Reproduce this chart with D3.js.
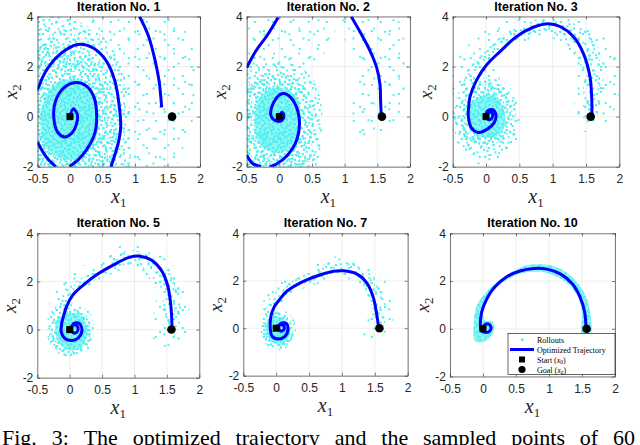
<!DOCTYPE html>
<html>
<head>
<meta charset="utf-8">
<script src="https://cdn.jsdelivr.net/npm/d3@7"></script>
<style>
  body { margin: 0; background: #fff; }
  svg { display: block; }
  .tick text { font-family: Arial, "Liberation Sans", sans-serif; font-size: 12px; fill: #262626; }
  .title { font-family: Arial, "Liberation Sans", sans-serif; font-weight: bold; font-size: 12.5px; fill: #000; }
  .lab { font-family: "Liberation Serif", "Times New Roman", serif; font-style: italic; fill: #262626; }
  .leg { font-family: "Liberation Serif", "Times New Roman", serif; font-size: 8px; fill: #000; }
  .cap { font-family: "Liberation Serif", "Times New Roman", serif; font-size: 22px; fill: #000; }
</style>
</head>
<body>
<svg width="640" height="445"></svg>
<script>
// ---- data ----
const xTicks = [-0.5, 0, 0.5, 1, 1.5, 2];
const yTicks = [-2, 0, 2, 4];
const titles = ["Iteration No. 1", "Iteration No. 2", "Iteration No. 3",
                "Iteration No. 5", "Iteration No. 7", "Iteration No. 10"];
const startPt = [0, 0];
const goalPt = [1.57, 0];

// optimized trajectory (segments that stay inside the axes)
const traj1 = [
  [[0,0],[0.05,0.31],[0.11,0.11],[0.10,-0.29],[0.02,-0.68],[-0.09,-0.81],[-0.19,-0.62],[-0.25,-0.02],
   [-0.22,0.64],[-0.09,1.16],[0.09,1.36],[0.25,1.23],[0.37,0.77],[0.41,-0.02],[0.38,-0.68],[0.25,-1.34],
   [0.12,-1.74],[-0.01,-2.0]],
  [[-0.22,-2.0],[-0.37,-1.6],[-0.5,-1.01]],
  [[-0.5,1.06],[-0.37,1.82],[-0.16,2.48],[0.12,2.88],[0.35,2.75],[0.56,2.22],[0.69,1.43],[0.76,0.37],
   [0.78,-0.42],[0.74,-1.08],[0.63,-2.0]],
  [[1.07,4.0],[1.20,3.27],[1.30,2.35],[1.37,1.43],[1.41,0.37]]
];
const traj2 = [
  [[0,0],[0.04,0.18],[0.07,0.05],[0.04,-0.15],[-0.04,-0.18],[-0.13,0.05],[-0.08,0.6],[0.05,0.92],
   [0.18,0.75],[0.30,0.0],[0.27,-0.9],[0.12,-1.55],[-0.05,-1.9],[-0.15,-2.0]],
  [[-0.28,-2.0],[-0.41,-1.87],[-0.5,-1.54]],
  [[-0.5,1.96],[-0.36,2.62],[-0.18,3.27],[-0.02,3.96]],
  [[1.10,4.0],[1.26,3.27],[1.39,2.62],[1.49,1.96],[1.54,1.30],[1.55,0.63],[1.56,0.04]]
];
const traj3 = [
  [[0,0],[0.02,0.15],[0.08,0.17],[0.10,0.02],[0.06,-0.12],[0.0,-0.05],[0.02,0.22],[0.10,0.28],
   [0.15,0.05],[0.12,-0.25],[0.02,-0.5],[-0.12,-0.63],[-0.22,-0.45],[-0.265,0.0],[-0.26,0.4],
   [-0.24,0.8],[-0.14,1.47],[0.01,2.07],[0.21,2.6],[0.46,3.2],[0.71,3.57],[0.935,3.71],[1.11,3.6],
   [1.31,3.2],[1.46,2.53],[1.56,1.6],[1.585,0.8],[1.59,0.07]]
];
const traj5 = [
  [[0,0],[0.04,0.17],[0.10,0.18],[0.13,0.02],[0.09,-0.14],[0.04,-0.10],[0.03,0.05],[0.06,0.25],
   [0.14,0.27],[0.19,0.0],[0.14,-0.33],[0.04,-0.45],[-0.07,-0.38],[-0.13,-0.1],[-0.12,0.3],
   [-0.09,0.6],[-0.05,0.95],[0.05,1.44],[0.21,1.85],[0.41,2.27],[0.67,2.68],[0.92,3.0],[1.08,3.05],
   [1.26,2.89],[1.41,2.48],[1.51,1.85],[1.56,1.02],[1.58,0.05]]
];
const traj7 = [
  [[0,0],[0.05,0.15],[0.11,0.12],[0.12,-0.05],[0.07,-0.12],[0.04,0.02],[0.07,0.2],[0.15,0.2],
   [0.18,-0.05],[0.13,-0.35],[0.03,-0.45],[-0.06,-0.35],[-0.09,0.0],[-0.08,0.5],[-0.03,0.9],
   [0.05,1.2],[0.16,1.55],[0.36,1.9],[0.62,2.2],[0.87,2.4],[1.02,2.42],[1.23,2.28],[1.38,1.9],
   [1.48,1.27],[1.53,0.56],[1.56,0.03]]
];
const traj10 = [
  [[0,0],[0.02,0.15],[0.08,0.2],[0.12,0.08],[0.10,-0.1],[0.03,-0.15],[-0.03,-0.05],[-0.04,0.14],
   [-0.02,0.7],[0.06,1.27],[0.18,1.76],[0.36,2.18],[0.56,2.42],[0.77,2.53],[0.97,2.5],[1.17,2.3],
   [1.35,1.9],[1.47,1.34],[1.54,0.7],[1.56,0.07]]
];

// rollout clouds: outlines of regions of roughly equal sample density
const cloud1 = [
  ["sparse", [[-0.7,4.2],[1.5,4.2],[1.85,3.0],[1.97,1.5],[1.9,0.0],[1.75,-1.2],[1.55,-2.2],[-0.7,-2.2]]],
  ["medium", [[-0.7,-2.2],[0.85,-2.2],[0.92,-0.5],[0.9,1.0],[0.75,2.3],[0.45,3.3],[0.0,3.9],[-0.7,4.1]]],
  ["dense",  [[-0.7,-2.2],[0.62,-2.2],[0.72,-1.0],[0.72,0.3],[0.6,1.4],[0.38,2.2],[0.05,2.75],[-0.3,2.9],[-0.7,2.7]]],
  ["solid",  [[0.44,-0.1],[0.36,0.95],[0.05,1.5],[-0.3,1.1],[-0.45,-0.1],[-0.35,-1.3],[0.02,-1.75],[0.35,-1.15]]]
];
const cloud2 = [
  ["sparse", [[-0.7,1.8],[0.4,1.9],[0.75,2.8],[0.85,4.2],[-0.7,4.2]]],
  ["sparse", [[1.0,4.2],[1.75,4.1],[1.95,2.5],[1.95,1.2],[1.75,-0.3],[1.45,-0.7],[1.2,-0.8],[1.05,-0.2],[1.2,1.5],[1.05,2.8],[0.92,3.6]]],
  ["medium", [[-0.7,-2.2],[0.52,-2.2],[0.64,-0.8],[0.64,0.6],[0.52,1.5],[0.3,2.0],[0.0,2.2],[-0.3,2.1],[-0.7,1.9]]],
  ["dense",  [[-0.7,-2.2],[0.38,-2.2],[0.5,-0.8],[0.5,0.5],[0.36,1.3],[0.1,1.7],[-0.2,1.75],[-0.45,1.4],[-0.7,1.0]]],
  ["solid",  [[0.33,-0.2],[0.25,0.8],[0.0,1.15],[-0.28,0.85],[-0.38,-0.2],[-0.3,-1.1],[0.0,-1.45],[0.25,-1.0]]]
];
const cloud3 = [
  ["sparse", [[-0.5,-0.5],[-0.55,1.5],[-0.38,2.5],[-0.1,3.3],[0.3,3.9],[0.7,4.1],[1.2,4.05],[1.55,3.7],[1.85,3.0],
              [1.97,2.0],[1.97,0.6],[1.82,-0.2],[1.45,-0.6],[1.32,0.2],[1.38,1.5],[1.28,2.5],[1.0,3.1],[0.7,3.1],
              [0.35,2.7],[0.15,2.1],[0.3,1.5],[0.5,0.5],[0.48,-0.8],[0.3,-1.75],[0.0,-1.95],[-0.35,-1.6]]],
  ["medium", [[-0.35,0.8],[-0.32,1.6],[-0.12,2.45],[0.2,3.15],[0.55,3.7],[0.9,3.95],[1.25,3.8],[1.57,3.25],[1.74,2.3],
              [1.76,1.2],[1.7,0.3],[1.62,-0.25],[1.48,-0.15],[1.46,0.8],[1.44,1.8],[1.33,2.55],[1.1,3.15],[0.85,3.35],
              [0.55,3.15],[0.27,2.65],[0.03,2.0],[-0.12,1.2]]],
  ["medium", [[0.45,0.0],[0.38,1.1],[0.0,1.55],[-0.38,1.1],[-0.48,-0.2],[-0.38,-1.25],[0.0,-1.6],[0.38,-1.1]]],
  ["dense",  [[0.4,0.0],[0.3,0.9],[0.05,1.3],[-0.25,1.0],[-0.38,-0.3],[-0.3,-0.9],[0.0,-1.15],[0.3,-0.8]]],
  ["solid",  [[0.29,0.0],[0.18,0.75],[-0.05,0.85],[-0.26,0.35],[-0.25,-0.4],[-0.1,-0.8],[0.15,-0.8],[0.28,-0.4]]]
];
const cloud5 = [
  ["sparse", [[-0.3,0.8],[-0.27,1.5],[0.0,2.25],[0.4,2.95],[0.9,3.55],[1.3,3.25],[1.62,2.6],[1.8,1.5],[1.85,0.5],
              [1.75,-0.55],[1.33,-0.6],[1.28,0.3],[1.33,1.5],[1.18,2.25],[0.95,2.55],[0.6,2.25],[0.25,1.65],[0.0,1.0]]],
  ["medium", [[-0.22,0.8],[-0.17,1.4],[0.08,1.98],[0.45,2.55],[0.9,3.3],[1.25,3.05],[1.55,2.45],[1.7,1.5],[1.7,0.3],
              [1.58,-0.35],[1.43,0.3],[1.43,1.3],[1.28,2.15],[1.0,2.7],[0.7,2.5],[0.35,1.98],[0.1,1.38],[-0.04,0.8]]],
  ["medium", [[0.38,0.0],[0.28,0.8],[0.0,1.0],[-0.3,0.7],[-0.34,-0.3],[-0.2,-0.95],[0.05,-1.12],[0.3,-0.8]]],
  ["dense",  [[0.33,0.1],[0.22,0.7],[0.0,0.9],[-0.22,0.6],[-0.3,-0.2],[-0.2,-0.85],[0.05,-1.02],[0.28,-0.7]]],
  ["solid",  [[0.27,0.1],[0.15,0.6],[-0.05,0.68],[-0.2,0.35],[-0.22,-0.2],[-0.1,-0.75],[0.1,-0.85],[0.25,-0.45]]]
];
const cloud7 = [
  ["sparse", [[-0.22,0.6],[-0.17,1.3],[0.08,1.95],[0.4,2.55],[0.8,3.0],[1.1,2.95],[1.47,2.55],[1.74,1.6],[1.8,0.5],
              [1.62,-0.3],[1.33,-0.5],[1.38,0.4],[1.38,1.3],[1.18,1.95],[0.95,2.1],[0.6,1.85],[0.25,1.45],[0.0,0.9]]],
  ["medium", [[-0.16,0.6],[-0.11,1.22],[0.1,1.75],[0.45,2.3],[0.85,2.8],[1.15,2.75],[1.46,2.3],[1.62,1.5],[1.67,0.5],
              [1.6,-0.12],[1.48,0.2],[1.44,1.1],[1.28,1.88],[1.05,2.25],[0.75,2.15],[0.4,1.82],[0.15,1.38],[-0.01,0.8]]],
  ["medium", [[0.3,0.1],[0.18,0.65],[-0.05,0.8],[-0.22,0.45],[-0.23,-0.2],[-0.12,-0.8],[0.07,-0.92],[0.25,-0.6]]],
  ["dense",  [[0.26,0.1],[0.15,0.55],[-0.05,0.68],[-0.18,0.4],[-0.2,-0.1],[-0.12,-0.7],[0.05,-0.85],[0.22,-0.55]]],
  ["solid",  [[0.21,0.0],[0.1,0.42],[-0.08,0.45],[-0.15,0.2],[-0.15,-0.15],[-0.06,-0.6],[0.1,-0.66],[0.2,-0.3]]]
];
const cloud10 = [
  ["solid", [[-0.12,-0.5],[-0.13,0.5],[-0.09,1.0],[0.04,1.5],[0.2,1.92],[0.4,2.32],[0.6,2.6],[0.8,2.7],[1.0,2.67],
             [1.2,2.47],[1.4,2.03],[1.55,1.4],[1.62,0.7],[1.63,-0.2],[1.5,-0.25],[1.5,0.6],[1.45,1.25],[1.32,1.8],
             [1.15,2.15],[0.95,2.35],[0.77,2.4],[0.55,2.3],[0.35,2.03],[0.18,1.65],[0.05,1.2],[0.0,0.7],[0.03,0.35],
             [0.14,0.32],[0.17,0.0],[0.1,-0.38],[0.0,-0.55]]]
];

const trajs = [traj1, traj2, traj3, traj5, traj7, traj10];
const clouds = [cloud1, cloud2, cloud3, cloud5, cloud7, cloud10];
const legendLabels = ["Rollouts", "Optimized Trajectory", "Start", "Goal"];
const captionWords = ["Fig.", "3:", "The", "optimized", "trajectory", "and", "the", "sampled", "points", "of", "60"];

// ---- layout ----
const layout = [
  {l: 37.5, r: 200,   t: 16.5,  b: 166.7},
  {l: 246.7, r: 410,  t: 16.5,  b: 166.7},
  {l: 452.7, r: 619.3, t: 16.5, b: 166.7},
  {l: 37.3, r: 199.3, t: 233.3, b: 377.7},
  {l: 243.3, r: 407.7, t: 233.3, b: 375.7},
  {l: 450, r: 615,    t: 233.3, b: 376.5}
];
const cyan = "#4cf0f0";
const axisCol = "#262626";

const svg = d3.select("svg");
const defs = svg.append("defs");

// speckle texture for rollout density: two overlaid tiles of different size
// so the repeat is less visible
const speck = [[3,5],[18,20],[25,8],[10,25],[14,12],[27,26],[6,17],[21,2],
               [1,28],[12,3],[23,15],[8,10],[17,27],[28,19],[4,23],[15,18],
               [20,9],[26,1],[11,14],[2,12],[24,22],[7,1],[19,13],[13,22],
               [29,11],[5,8],[16,5],[22,28],[9,20],[27,16],[0,19],[14,0],
               [24,5],[6,26],[18,16],[11,7],[3,15],[21,23],[28,3],[16,10]];
const tiles = [{key: "a", size: 18, pts: speck},
               {key: "b", size: 25, pts: speck.slice().reverse()}];
const levels = {sparse: [2, 5], medium: [8, 16], dense: [16, 30], solid: [20, 40]};
Object.entries(levels).forEach(([name, counts]) => {
  tiles.forEach((t, k) => {
    const p = defs.append("pattern")
      .attr("id", "p-" + name + t.key)
      .attr("patternUnits", "userSpaceOnUse")
      .attr("width", t.size).attr("height", t.size);
    if (name === "solid" && k === 0) p.append("rect").attr("width", t.size).attr("height", t.size).attr("fill", "#93f5f5");
    p.selectAll("rect.d").data(t.pts.slice(0, counts[k])).enter().append("rect")
      .attr("class", "d")
      .attr("x", d => d[0] * t.size / 30).attr("y", d => d[1] * t.size / 30)
      .attr("width", 2).attr("height", 2)
      .attr("fill", cyan);
  });
});

layout.forEach((L, i) => {
  const x = d3.scaleLinear().domain([-0.5, 2]).range([L.l, L.r]);
  const y = d3.scaleLinear().domain([-2, 4]).range([L.b, L.t]);
  const g = svg.append("g");

  defs.append("clipPath").attr("id", "clip" + i)
    .append("rect").attr("x", L.l).attr("y", L.t).attr("width", L.r - L.l).attr("height", L.b - L.t);

  // grid
  g.selectAll("line.gx").data(xTicks).enter().append("line")
    .attr("x1", d => x(d)).attr("x2", d => x(d)).attr("y1", L.t).attr("y2", L.b)
    .attr("stroke", "#e3e3e3").attr("stroke-width", 0.6);
  g.selectAll("line.gy").data(yTicks).enter().append("line")
    .attr("x1", L.l).attr("x2", L.r).attr("y1", d => y(d)).attr("y2", d => y(d))
    .attr("stroke", "#e3e3e3").attr("stroke-width", 0.6);

  const body = g.append("g").attr("clip-path", "url(#clip" + i + ")");
  const blob = d3.line().x(d => x(d[0])).y(d => y(d[1])).curve(d3.curveCatmullRomClosed.alpha(0.5));

  tiles.forEach(t => {
    body.selectAll("path.cloud" + t.key).data(clouds[i]).enter().append("path")
      .attr("class", "cloud" + t.key)
      .attr("d", d => blob(d[1]))
      .attr("fill", d => "url(#p-" + d[0] + t.key + ")");
  });

  const curve = d3.line().x(d => x(d[0])).y(d => y(d[1])).curve(d3.curveCatmullRom.alpha(0.5));
  body.selectAll("path.traj").data(trajs[i]).enter().append("path")
    .attr("d", curve)
    .attr("fill", "none").attr("stroke", "#0000ff").attr("stroke-width", 3)
    .attr("stroke-linejoin", "round");

  body.append("rect")
    .attr("x", x(startPt[0]) - 3.5).attr("y", y(startPt[1]) - 3.5)
    .attr("width", 7).attr("height", 7).attr("fill", "#000");
  body.append("circle")
    .attr("cx", x(goalPt[0])).attr("cy", y(goalPt[1])).attr("r", 4.3).attr("fill", "#000");

  // axes (MATLAB style box with inward ticks)
  const fmt = d => String(d);
  const ax = [
    d3.axisBottom(x).tickValues(xTicks).tickFormat(fmt).tickSizeInner(-3).tickSizeOuter(0).tickPadding(8),
    d3.axisTop(x).tickValues(xTicks).tickFormat("").tickSizeInner(-3).tickSizeOuter(0),
    d3.axisLeft(y).tickValues(yTicks).tickFormat(fmt).tickSizeInner(-3).tickSizeOuter(0).tickPadding(4),
    d3.axisRight(y).tickValues(yTicks).tickFormat("").tickSizeInner(-3).tickSizeOuter(0)
  ];
  const pos = ["translate(0," + L.b + ")", "translate(0," + L.t + ")",
               "translate(" + L.l + ",0)", "translate(" + L.r + ",0)"];
  ax.forEach((a, k) => {
    const ag = g.append("g").attr("transform", pos[k]).call(a);
    ag.selectAll("path, line").attr("stroke", axisCol).attr("stroke-width", 0.6);
    ag.selectAll("text").attr("font-family", null).attr("font-size", null);
  });

  // title
  g.append("text").attr("class", "title")
    .attr("x", (L.l + L.r) / 2).attr("y", L.t - 6)
    .attr("text-anchor", "middle").text(titles[i]);

  // axis labels
  const xl = g.append("text").attr("class", "lab")
    .attr("x", (L.l + L.r) / 2).attr("y", L.b + 36)
    .attr("text-anchor", "middle").attr("font-size", 20);
  xl.append("tspan").text("x");
  xl.append("tspan").attr("font-size", 13).attr("font-style", "normal").attr("dy", 4).text("1");

  const yl = g.append("text").attr("class", "lab")
    .attr("transform", "translate(" + (L.l - 21) + "," + ((L.t + L.b) / 2) + ") rotate(-90)")
    .attr("text-anchor", "middle").attr("font-size", 19);
  yl.append("tspan").text("x");
  yl.append("tspan").attr("font-size", 13).attr("font-style", "normal").attr("dy", 4).text("2");

  // legend on the last panel
  if (i === 5) {
    const lg = svg.append("g");
    lg.append("rect").attr("x", 508).attr("y", 333.5).attr("width", 107).attr("height", 41)
      .attr("fill", "#fff").attr("stroke", "#000").attr("stroke-width", 0.6);
    const rowY = d3.scalePoint().domain(legendLabels).range([339.5, 369.5]);
    lg.append("rect").attr("x", 521).attr("y", rowY("Rollouts") - 1).attr("width", 2.5).attr("height", 2.5).attr("fill", cyan);
    lg.append("line").attr("x1", 510).attr("x2", 534).attr("y1", rowY("Optimized Trajectory")).attr("y2", rowY("Optimized Trajectory"))
      .attr("stroke", "#0000ff").attr("stroke-width", 3);
    lg.append("rect").attr("x", 519).attr("y", rowY("Start") - 3).attr("width", 6).attr("height", 6).attr("fill", "#000");
    lg.append("circle").attr("cx", 522).attr("cy", rowY("Goal")).attr("r", 3.6).attr("fill", "#000");
    legendLabels.forEach(lab => {
      const t = lg.append("text").attr("class", "leg").attr("x", 537).attr("y", rowY(lab) + 3);
      t.append("tspan").text(lab);
      if (lab === "Start" || lab === "Goal") {
        t.append("tspan").text(" (");
        t.append("tspan").attr("font-style", "italic").text("x");
        t.append("tspan").attr("font-size", 5.5).attr("dy", 1.5).text(lab === "Start" ? "0" : "g");
        t.append("tspan").attr("dy", -1.5).text(")");
      }
    });
  }
});

// caption (cut by the bottom edge, as in the original), justified across the page
const cap = svg.append("g");
const words = cap.selectAll("text").data(captionWords).enter().append("text")
  .attr("class", "cap").attr("y", 444.5).text(d => d);
const widths = [];
words.each(function() { widths.push(this.getComputedTextLength()); });
const capLeft = 2, lastStart = 613;
const gap = (lastStart - capLeft - d3.sum(widths.slice(0, -1))) / (captionWords.length - 1);
let cx = capLeft;
words.attr("x", (d, k) => { const v = cx; cx += widths[k] + gap; return v; });
</script>
</body>
</html>
